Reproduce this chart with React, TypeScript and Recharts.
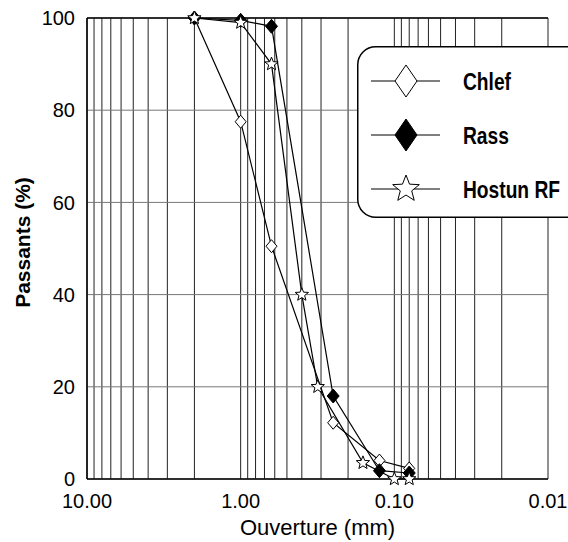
import { CartesianGrid, Legend, Line, LineChart, ReferenceLine, XAxis, YAxis } from "recharts";

// sieve opening (mm) and percent passing
const chlefSize = [2, 1, 0.63, 0.25, 0.125, 0.08];
const chlefPass = [100, 77.5, 50.5, 12.2, 4.0, 2.3];

const rassSize = [2, 1, 0.63, 0.25, 0.125, 0.08];
const rassPass = [100, 99.5, 98.2, 18, 1.8, 1.3];

const hostunSize = [2, 1, 0.63, 0.4, 0.315, 0.16, 0.1, 0.08];
const hostunPass = [100, 99, 90, 40, 20, 3.5, 0, 0];

const seriesNames = ["Chlef", "Rass", "Hostun RF"];

const majorTicks = [10, 1, 0.1, 0.01];
const minorSteps = [2, 3, 4, 5, 6, 7, 8, 9];
const yTicks = [0, 20, 40, 60, 80, 100];
const yMinorTicks = [10, 30, 50, 70, 90];

const xTicks = [
  ...majorTicks,
  ...[0.01, 0.1, 1].flatMap((d) => minorSteps.map((m) => Number((d * m).toPrecision(2)))),
].sort((a, b) => a - b);

const toPoints = (xs: number[], ys: number[]) => xs.map((x, i) => ({ x, y: ys[i] }));
const chlefData = toPoints(chlefSize, chlefPass);
const rassData = toPoints(rassSize, rassPass);
const hostunData = toPoints(hostunSize, hostunPass);

const FONT = "'Liberation Sans', Arial, sans-serif";

function diamondPath(cx: number, cy: number, w: number, h: number) {
  return `M${cx},${cy - h}L${cx + w},${cy}L${cx},${cy + h}L${cx - w},${cy}Z`;
}

function starPath(cx: number, cy: number, ro: number, ri: number) {
  const pts: string[] = [];
  for (let i = 0; i < 10; i++) {
    const r = i % 2 === 0 ? ro : ri;
    const a = -Math.PI / 2 + (i * Math.PI) / 5;
    pts.push(`${(cx + r * Math.cos(a)).toFixed(2)},${(cy + r * Math.sin(a)).toFixed(2)}`);
  }
  return `M${pts.join("L")}Z`;
}

const openDiamond = (p: any) => (
  <path key={`c${p.index}`} d={diamondPath(p.cx, p.cy, 5.5, 6.5)} fill="#fff" stroke="#000" strokeWidth={1} />
);
const fullDiamond = (p: any) => (
  <path key={`r${p.index}`} d={diamondPath(p.cx, p.cy, 6, 7)} fill="#000" stroke="#000" strokeWidth={1} />
);
const openStar = (p: any) => (
  <path key={`h${p.index}`} d={starPath(p.cx, p.cy, 7, 3)} fill="#fff" stroke="#000" strokeWidth={1} />
);

function LegendBox() {
  const rows = [
    <path d={diamondPath(49, 35, 11, 16)} fill="#fff" stroke="#000" strokeWidth={1} />,
    <path d={diamondPath(49, 89, 11, 16)} fill="#000" stroke="#000" strokeWidth={1} />,
    <path d={starPath(49, 143, 14, 6)} fill="#fff" stroke="#000" strokeWidth={1} />,
  ];
  return (
    <svg width={230} height={172} style={{ display: "block" }}>
      <rect x={0.75} y={0.75} width={240} height={170.5} rx={18} fill="#fff" stroke="#000" strokeWidth={1.5} />
      {rows.map((marker, i) => {
        const cy = 35 + i * 54;
        return (
          <g key={seriesNames[i]}>
            <line x1={14} x2={83} y1={cy} y2={cy} stroke="#000" strokeWidth={1} />
            {marker}
            <text
              transform={`translate(106 ${cy + 9}) scale(0.8 1)`}
              fontFamily={FONT}
              fontWeight="bold"
              fontSize={24}
              fill="#000"
            >
              {seriesNames[i]}
            </text>
          </g>
        );
      })}
    </svg>
  );
}

export default function App() {
  return (
    <div style={{ position: "absolute", left: 0, top: 0, width: 568, height: 542, overflow: "hidden", background: "#fff" }}>
      <LineChart width={568} height={542} margin={{ top: 18, right: 20, bottom: 0, left: 0 }}>
        <CartesianGrid horizontal={false} stroke="#222" strokeWidth={1} />
        <CartesianGrid vertical={false} stroke="#777" strokeWidth={1} />
        <XAxis
          dataKey="x"
          type="number"
          scale="log"
          domain={[0.01, 10]}
          reversed
          allowDataOverflow
          ticks={xTicks}
          interval={0}
          height={63}
          tickSize={0}
          tickMargin={15}
          tickFormatter={(v: number) => (majorTicks.includes(v) ? v.toFixed(2) : "")}
          tick={{ fill: "#000", fontSize: 20, fontFamily: FONT }}
          axisLine={{ stroke: "#000", strokeWidth: 1.5 }}
          label={(props: any) => {
            const vb = props.viewBox;
            return (
              <text x={vb.x + vb.width / 2} y={535} textAnchor="middle" fontFamily={FONT} fontSize={22} fill="#000">
                Ouverture (mm)
              </text>
            );
          }}
        />
        <YAxis
          type="number"
          domain={[0, 100]}
          ticks={yTicks}
          width={87}
          tickSize={0}
          tickMargin={12}
          tick={{ fill: "#000", fontSize: 20, fontFamily: FONT }}
          axisLine={{ stroke: "#000", strokeWidth: 1.5 }}
          label={(props: any) => {
            const vb = props.viewBox;
            const cy = vb.y + vb.height / 2 - 6;
            return (
              <text
                x={30}
                y={cy}
                transform={`rotate(-90 30 ${cy})`}
                textAnchor="middle"
                fontFamily={FONT}
                fontWeight="bold"
                fontSize={21}
                fill="#000"
              >
                Passants (%)
              </text>
            );
          }}
        />
        <YAxis
          yAxisId="r"
          orientation="right"
          type="number"
          domain={[0, 100]}
          ticks={yMinorTicks}
          width={0}
          mirror
          tickSize={6}
          tickFormatter={() => ""}
          tickLine={{ stroke: "#000" }}
          axisLine={{ stroke: "#000", strokeWidth: 1.5 }}
        />
        <ReferenceLine y={100} stroke="#000" strokeWidth={1.5} />
        <Legend
          layout="horizontal"
          verticalAlign="middle"
          align="center"
          wrapperStyle={{ left: 357, top: 46, width: 230, height: 172 }}
          content={() => <LegendBox />}
        />
        <Line
          data={chlefData}
          dataKey="y"
          name={seriesNames[0]}
          stroke="#000"
          strokeWidth={1.2}
          dot={openDiamond}
          isAnimationActive={false}
        />
        <Line
          data={rassData}
          dataKey="y"
          name={seriesNames[1]}
          stroke="#000"
          strokeWidth={1.2}
          dot={fullDiamond}
          isAnimationActive={false}
        />
        <Line
          data={hostunData}
          dataKey="y"
          name={seriesNames[2]}
          stroke="#000"
          strokeWidth={1.2}
          dot={openStar}
          isAnimationActive={false}
        />
      </LineChart>
    </div>
  );
}
